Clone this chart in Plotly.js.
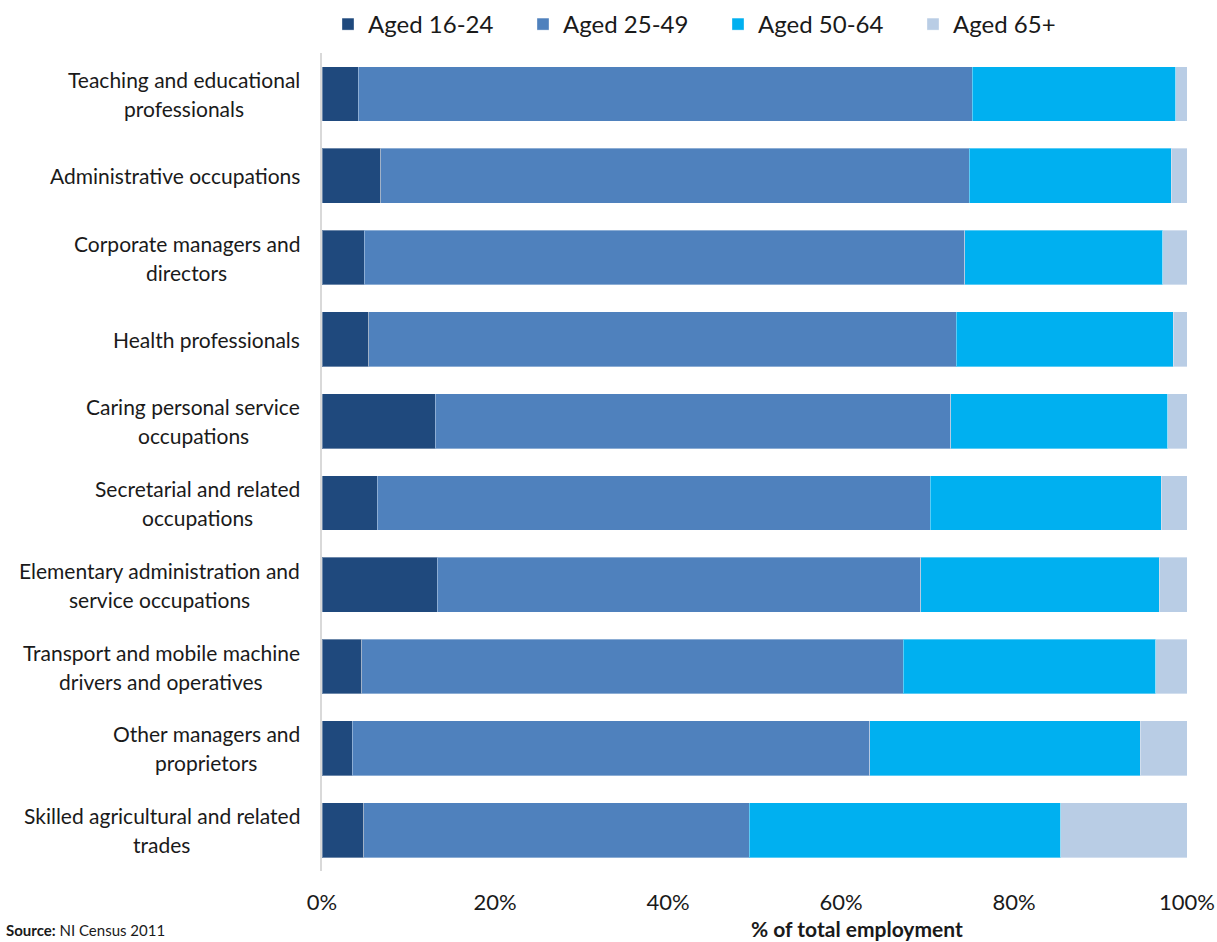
<!DOCTYPE html>
<html><head><meta charset="utf-8">
<script src="https://cdn.plot.ly/plotly-3.0.1.min.js"></script>
<style>html,body{margin:0;padding:0;background:#fff}</style>
</head><body><div id="chart" style="width:1217px;height:942px"></div>
<script>
const categories = [
  "Teaching and educational\nprofessionals",
  "Administrative occupations",
  "Corporate managers and\ndirectors",
  "Health professionals",
  "Caring personal service\noccupations",
  "Secretarial and related\noccupations",
  "Elementary administration and\nservice occupations",
  "Transport and mobile machine\ndrivers and operatives",
  "Other managers and\nproprietors",
  "Skilled agricultural and related\ntrades"
];
const seriesNames = ["Aged 16-24", "Aged 25-49", "Aged 50-64", "Aged 65+"];
const aged16_24 = [4.2, 6.8, 4.9, 5.4, 13.1, 6.4, 13.3, 4.6, 3.5, 4.8];
const aged25_49 = [71.0, 68.0, 69.4, 67.9, 59.6, 63.9, 55.9, 62.6, 59.8, 44.6];
const aged50_64 = [23.5, 23.4, 22.9, 25.1, 25.1, 26.7, 27.6, 29.2, 31.3, 36.0];
const aged65plus = [1.3, 1.8, 2.8, 1.6, 2.2, 3.0, 3.2, 3.6, 5.4, 14.6];
const colors = ["#1f497d", "#4f81bd", "#00b0f0", "#b9cde5"];
const xTickVals = [0, 20, 40, 60, 80, 100];
const xTickText = ["0%", "20%", "40%", "60%", "80%", "100%"];
const xTitle = "% of total employment";
const sourceText = "<b>Source:</b> NI Census 2011";

const FONT = "Lato, 'Open Sans', sans-serif";
const labelSize = 21;
const seriesValues = [aged16_24, aged25_49, aged50_64, aged65plus];

const traces = seriesValues.map((vals, i) => ({
  type: "bar",
  orientation: "h",
  name: seriesNames[i],
  x: vals,
  y: categories,
  marker: {color: colors[i], line: {color: "rgba(255,255,255,0.35)", width: 1}},
  hoverinfo: "x+name"
}));

// measure text for centred multi-line labels
const cv = document.createElement("canvas").getContext("2d");
cv.font = labelSize + "px Lato";
const annotations = [];
const lineH = 29;
categories.forEach(cat => {
  const lines = cat.split("\n");
  const w = Math.max(...lines.map(l => cv.measureText(l).width));
  lines.forEach((ln, j) => {
    annotations.push({
      xref: "paper", yref: "y", x: 0, y: cat,
      text: ln, showarrow: false,
      xanchor: "center", yanchor: "middle",
      xshift: -22 - w / 2,
      yshift: ((lines.length - 1) / 2 - j) * lineH,
      font: {family: FONT, size: labelSize, color: "#1a1a1a"}
    });
  });
});
annotations.push({
  xref: "paper", yref: "paper", x: (857 - 322) / 865, y: (871 - 928) / 818,
  text: "<b>" + xTitle + "</b>", showarrow: false,
  xanchor: "center", yanchor: "middle",
  font: {family: FONT, size: 21, color: "#1a1a1a"}
});
annotations.push({
  xref: "paper", yref: "paper", x: (4 - 322) / 865, y: (871 - 941) / 818,
  text: sourceText, showarrow: false,
  xanchor: "left", yanchor: "bottom",
  font: {family: FONT, size: 15, color: "#1a1a1a"}
});

const layout = {
  width: 1217, height: 942,
  margin: {l: 322, r: 30, t: 53, b: 71, pad: 0},
  paper_bgcolor: "#ffffff", plot_bgcolor: "#ffffff",
  barmode: "stack",
  bargap: 0.33,
  showlegend: true,
  legend: {
    orientation: "h", xref: "container", yref: "container",
    x: 328 / 1217, xanchor: "left", y: 1 - 2 / 942, yanchor: "top",
    font: {family: FONT, size: 24, color: "#1a1a1a"},
    entrywidth: 150, entrywidthmode: "pixels",
    traceorder: "normal"
  },
  xaxis: {
    range: [0, 100], tickmode: "array", tickvals: xTickVals, ticktext: xTickText,
    showgrid: false, zeroline: false, showline: false,
    ticks: "", ticklabelstandoff: 16,
    tickfont: {family: FONT, size: 22, color: "#1a1a1a"},
    fixedrange: true
  },
  yaxis: {
    autorange: "reversed", showticklabels: false,
    showline: true, linecolor: "#d9d9d9", linewidth: 1.5,
    showgrid: false, zeroline: false, ticks: "", fixedrange: true
  },
  annotations: annotations
};

Plotly.newPlot("chart", traces, layout, {displayModeBar: false});
</script>
</body></html>
